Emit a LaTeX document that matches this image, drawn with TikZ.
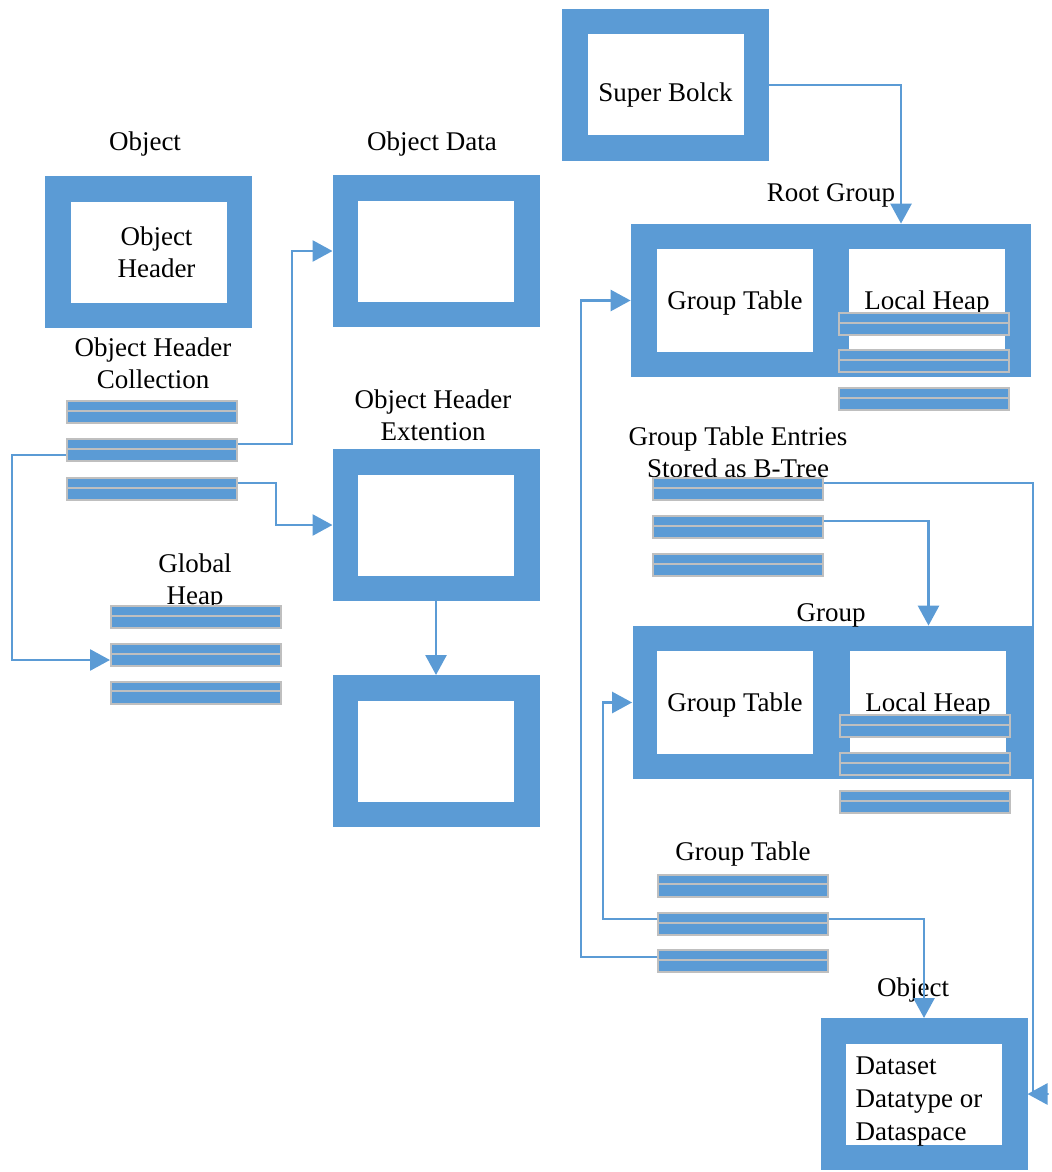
\documentclass[tikz,border=0pt]{standalone}
\usepackage{fontspec}
\setmainfont{Liberation Serif}
\usepackage{tikz}
\usetikzlibrary{positioning, arrows.meta, calc}
\definecolor{boxblue}{HTML}{5B9BD5}
\definecolor{bargray}{HTML}{BFBFBF}
\tikzset{frame/.style = {draw=boxblue, line width=12.75pt, fill=white, minimum width=90.75pt, minimum height=63.25pt, inner sep=0pt, align=center}}
\tikzset{panel/.style = {fill=boxblue, minimum width=200pt, minimum height=76.5pt, inner sep=0pt}}
\tikzset{pane/.style = {fill=white, minimum width=78pt, minimum height=51.5pt, inner sep=0pt, text height=12pt}}
\tikzset{bar/.style = {fill=boxblue, draw=bargray, line width=1pt, minimum width=85pt, minimum height=11pt, inner sep=0pt,
    path picture={\draw [bargray, line width=1pt] ([yshift=-4.75pt]path picture bounding box.north west) -- ([yshift=-4.75pt]path picture bounding box.north east);}}}
\tikzset{lbl/.style = {yshift=-1.5pt}}
\tikzset{link/.style = {draw=boxblue, line width=1.4pt, -{Triangle[length=10pt,width=10.5pt]}}}

\begin{document}
\begin{tikzpicture}[x=0.5pt, y=-0.5pt, font=\fontsize{13.5pt}{16pt}\selectfont]
    \useasboundingbox (0,0) rectangle (1051,1172);
    % boxes
    \node [frame] (ohd) at (148.5,252) {\hspace*{8pt}Object\\\hspace*{8pt}Header};
    \node [frame] (od) at (436,251) {};
    \node [frame] (ext) at (436,525) {};
    \node [frame] (ext2) at (436,751) {};
    \node [frame, text height=19.5pt] (sb) at (665.5,85) {Super Bolck};
    \node [frame, align=left, font=\fontsize{13.5pt}{16.5pt}\selectfont] (obj) at (924,1094) {\rule{0pt}{16.5pt}Dataset\\Datatype or\rule{5pt}{0pt}\\Dataspace};
    \node [panel] (rg) at (831,300.5) {};
    \node [pane] (rgtab) at (735,300.5) {Group Table};
    \node [pane] (rgheap) at (927,300.5) {Local Heap};
    \node [panel] (grp) at (832.5,702.5) {};
    \node [pane] (grptab) at (735,702.5) {Group Table};
    \node [pane] (grpheap) at (928,702.5) {Local Heap};
    % labels
    \node [lbl] (lobj) at (145,141) {Object};
    \node [lbl] (lod) at (432,141) {Object Data};
    \node [lbl, align=center] (lext) at (433,412) {Object Header\\Extention};
    \node [lbl, align=center] (lohc) at (153,360) {Object Header\\Collection};
    \node [lbl, align=center] (lgh) at (195,579) {Global\\Heap};
    \node [lbl] (lrg) at (831,192) {Root Group};
    \node [lbl, align=center] (lgte) at (738,449) {Group Table Entries\\Stored as B-Tree};
    \node [lbl] (lgrp) at (831,612) {Group};
    \node [lbl] (lgt) at (743,851) {Group Table};
    \node [lbl] (ldset) at (913,987) {Object};
    % bars
    \foreach \i/\y in {1/412,2/450,3/489}
        \node [bar] (ohc\i) at (152,\y) {};
    \foreach \i/\y in {1/489,2/527,3/565}
        \node [bar] (gte\i) at (738,\y) {};
    \foreach \i/\y in {1/617,2/655,3/692.5}
        \node [bar] (gh\i) at (196,\y) {};
    \foreach \i/\y in {1/324,2/361,3/399}
        \node [bar] (rlh\i) at (924,\y) {};
    \foreach \i/\y in {1/726,2/764,3/802}
        \node [bar] (glh\i) at (924.5,\y) {};
    \foreach \i/\y in {1/885.5,2/924,3/961}
        \node [bar] (gt\i) at (743,\y) {};
    % links
    \draw [link] ([yshift=3pt]ohc2.east) -- ++(54,0) |- (od.west);
    \draw [link] ([yshift=3pt]ohc3.east) -- ++(38,0) |- (ext.west);
    \draw [link] ([yshift=-2.5pt]ohc2.west) -- ++(-54,0) |- ([yshift=-2.5pt]gh2.west);
    \draw [link] (ext.south) -- (ext2.north);
    \draw [link] (sb.east) -| ([xshift=35pt]rg.north);
    \draw [link] ([yshift=3pt]gte1.east) -- ++(209,0) |- ($(obj.east)+(21,0)$) -- (obj.east);
    \draw [link] ([yshift=3pt]gte2.east) -| ([xshift=48pt]grp.north);
    \draw [link] ([yshift=2.5pt]gt2.west) -- ++(-54,0) |- (grp.west);
    \draw [link] ([yshift=2.5pt]gt2.east) -| (obj.north);
    \draw [link] ([yshift=2pt]gt3.west) -- ++(-76,0) |- (rg.west);
\end{tikzpicture}
\end{document}
